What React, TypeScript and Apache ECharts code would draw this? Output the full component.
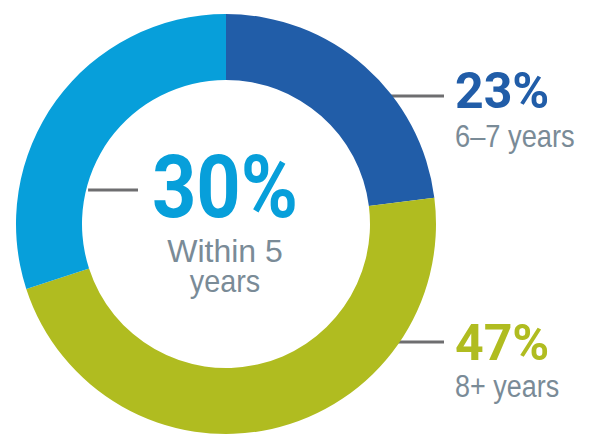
import React, { useEffect, useRef } from "react";
import * as echarts from "echarts";

const categories = ["6–7 years", "8+ years", "Within 5 years"];
const values = [23, 47, 30];
const colors = ["#215DA8", "#B0BC20", "#079FDA"];

const CX = 226;
const CY = 224;
const R_IN = 144;
const R_OUT = 210;

export default function App() {
  const ref = useRef<HTMLDivElement>(null);
  useEffect(() => {
    if (!ref.current) return;
    const chart = echarts.init(ref.current, null, { renderer: "svg" });
    const total = values.reduce((a, b) => a + b, 0);
    const pct = values.map((v) => Math.round((v / total) * 100) + "%");
    const grey = "#7A8B97";
    const lineColor = "#6E6E70";
    const outerX = (y: number) => CX + Math.sqrt(R_OUT * R_OUT - (y - CY) * (y - CY));
    const innerLeftX = (y: number) => CX - Math.sqrt(R_IN * R_IN - (y - CY) * (y - CY));
    const centerLines = categories[2].replace(/ (years)$/, "\n$1").split("\n");
    chart.setOption({
      animation: false,
      series: [
        {
          type: "pie",
          center: [CX, CY],
          radius: [R_IN, R_OUT],
          startAngle: 90,
          clockwise: true,
          silent: true,
          label: { show: false },
          labelLine: { show: false },
          itemStyle: { borderWidth: 0 },
          data: categories.map((c, i) => ({
            name: c,
            value: values[i],
            itemStyle: { color: colors[i] },
          })),
        },
      ],
      graphic: [
        { type: "line", shape: { x1: outerX(96) - 2, y1: 96, x2: 444, y2: 96 }, style: { stroke: lineColor, lineWidth: 3 } },
        { type: "line", shape: { x1: outerX(342) - 2, y1: 342, x2: 444, y2: 342 }, style: { stroke: lineColor, lineWidth: 3 } },
        { type: "line", shape: { x1: innerLeftX(190) + 2, y1: 190, x2: 138, y2: 190 }, style: { stroke: lineColor, lineWidth: 3 } },
        {
          type: "text", x: 455, y: 91,
          style: { text: pct[0], fill: colors[0], font: "bold 50px Roboto", align: "left", verticalAlign: "middle" },
        },
        {
          type: "text", x: 455, y: 136, scaleX: 0.88,
          style: { text: categories[0], fill: grey, font: "31px 'Liberation Sans'", align: "left", verticalAlign: "middle" },
        },
        {
          type: "text", x: 455, y: 342.5,
          style: { text: pct[1], fill: colors[1], font: "bold 50px Roboto", align: "left", verticalAlign: "middle" },
        },
        {
          type: "text", x: 455, y: 386, scaleX: 0.87,
          style: { text: categories[1], fill: grey, font: "31px 'Liberation Sans'", align: "left", verticalAlign: "middle" },
        },
        {
          type: "text", x: 225, y: 186.5, scaleX: 0.88,
          style: { text: pct[2], fill: colors[2], font: "bold 88px Roboto", align: "center", verticalAlign: "middle" },
        },
        {
          type: "text", x: 225, y: 251,
          style: { text: centerLines[0], fill: grey, font: "32px 'Liberation Sans'", align: "center", verticalAlign: "middle" },
        },
        {
          type: "text", x: 225, y: 280, scaleX: 0.9,
          style: { text: centerLines[1], fill: grey, font: "32px 'Liberation Sans'", align: "center", verticalAlign: "middle" },
        },
      ],
    });
    return () => chart.dispose();
  }, []);
  return <div ref={ref} style={{ width: 592, height: 437, position: "absolute", left: 0, top: 0 }} />;
}
